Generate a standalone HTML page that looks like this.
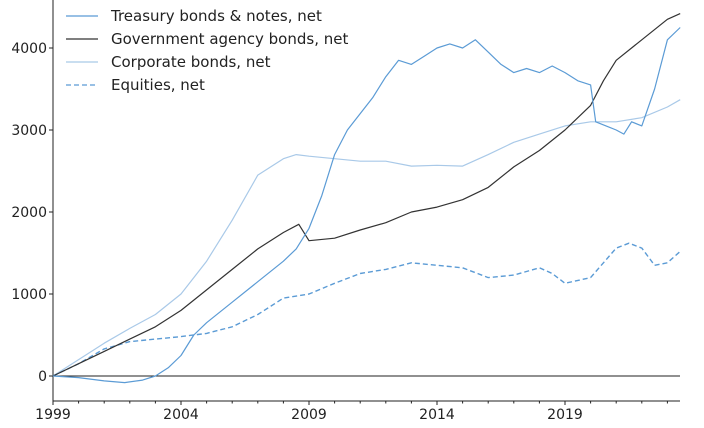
<!DOCTYPE html>
<html><head><meta charset="utf-8"><style>
body{margin:0;background:#fff;}
svg{display:block;font-family:"DejaVu Sans","Liberation Sans",sans-serif;}
</style></head><body>
<svg id="c" width="704" height="428"></svg>
<script>
const years=[1999,2000,2001,2001.8,2002.5,2003,2003.5,2004,2004.5,2005,2006,2007,2008,2008.5,2009,2009.5,2010,2010.5,2011,2011.5,2012,2012.5,2013,2013.5,2014,2014.5,2015,2015.5,2016,2016.5,2017,2017.5,2018,2018.5,2019,2019.5,2020,2020.2,2021,2021.3,2021.6,2022,2022.5,2023,2023.5];
const treasury=[0,-20,-60,-80,-50,0,100,250,500,650,900,1150,1400,1550,1800,2200,2700,3000,3200,3400,3650,3850,3800,3900,4000,4050,4000,4100,3950,3800,3700,3750,3700,3780,3700,3600,3550,3100,3000,2950,3100,3050,3500,4100,4250];
const yearsB=[1999,2000,2001,2002,2003,2004,2005,2006,2007,2008,2008.6,2009,2010,2011,2012,2013,2014,2015,2016,2017,2018,2019,2020,2020.5,2021,2022,2023,2023.5];
const agency=[0,150,300,450,600,800,1050,1300,1550,1750,1850,1650,1680,1780,1870,2000,2060,2150,2300,2550,2750,3000,3300,3600,3850,4100,4350,4420];
const yearsC=[1999,2000,2001,2002,2003,2004,2005,2006,2007,2008,2008.5,2009,2010,2011,2012,2013,2014,2015,2016,2017,2018,2019,2020,2021,2022,2023,2023.5];
const corporate=[0,200,400,580,750,1000,1400,1900,2450,2650,2700,2680,2650,2620,2620,2560,2570,2560,2700,2850,2950,3050,3100,3100,3150,3280,3370];
const yearsD=[1999,2000,2001,2002,2003,2004,2005,2006,2007,2008,2009,2010,2011,2012,2013,2014,2015,2016,2017,2018,2018.5,2019,2020,2021,2021.5,2022,2022.5,2023,2023.5];
const equities=[0,150,330,420,450,480,520,600,750,950,1000,1130,1250,1300,1380,1350,1320,1200,1230,1320,1250,1130,1200,1560,1620,1560,1350,1380,1520];
const yTicks=[0,1000,2000,3000,4000];
const xTicks=[1999,2004,2009,2014,2019];
const legendLabels=["Treasury bonds & notes, net","Government agency bonds, net","Corporate bonds, net","Equities, net"];

const L=53,R=680,T=0,B=401;
const X=y=>L+(y-1999)*25.6;
const Y=v=>376-v*0.082;
const svg=document.getElementById('c');
const NS='http://www.w3.org/2000/svg';
function mk(t,a,p){const e=document.createElementNS(NS,t);for(const k in a)e.setAttribute(k,a[k]);(p||svg).appendChild(e);return e;}

// axes
let e=mk('line',{x1:L,y1:T,x2:L,y2:B,stroke:'#222','stroke-width':1});


e=mk('line',{x1:L,y1:B,x2:R,y2:B,stroke:'#222','stroke-width':1});


e=mk('line',{x1:L,y1:Y(0),x2:R,y2:Y(0),stroke:'#222','stroke-width':1});



yTicks.forEach(v=>{
  mk('line',{x1:L-4,y1:Y(v),x2:L,y2:Y(v),stroke:'#222'});
  const t=mk('text',{x:L-6,y:Y(v)+5,'text-anchor':'end','font-size':14,fill:'#222'});
  t.textContent=v;
  
  
});
for(let y=1999;y<=2023;y++){
  mk('line',{x1:X(y),y1:B,x2:X(y),y2:B+(xTicks.includes(y)?4:2.5),stroke:'#222'});
}
xTicks.forEach(v=>{
  const t=mk('text',{x:X(v),y:B+18,'text-anchor':'middle','font-size':14,fill:'#222'});
  t.textContent=v;
  
  
});

function line(xs,vs,color,w,dash,name){
  const d=xs.map((x,i)=>(i?'L':'M')+X(x).toFixed(1)+','+Y(vs[i]).toFixed(1)).join('');
  const p=mk('path',{d:d,fill:'none',stroke:color,'stroke-width':w,'stroke-dasharray':dash||'none','stroke-linejoin':'round'});
  
  
}
line(yearsC,corporate,'#a9c9e8',1.2,null,'corporate-line');
line(yearsD,equities,'#5b9bd5',1.4,'5,3','equities-line');
line(yearsB,agency,'#333',1.2,null,'agency-line');
line(years,treasury,'#5b9bd5',1.2,null,'treasury-line');

const lc=['#5b9bd5','#333','#a9c9e8','#5b9bd5'];
const ld=[null,null,null,'5,3'];
legendLabels.forEach((s,i)=>{
  const yy=16+i*23;
  const l=mk('line',{x1:66,y1:yy,x2:98,y2:yy,stroke:lc[i],'stroke-width':1.3,'stroke-dasharray':ld[i]||'none'});
  
  
  const t=mk('text',{x:111,y:yy+5,'font-size':15,fill:'#222'});
  t.textContent=s;
  
  
});
</script>
</body></html>
